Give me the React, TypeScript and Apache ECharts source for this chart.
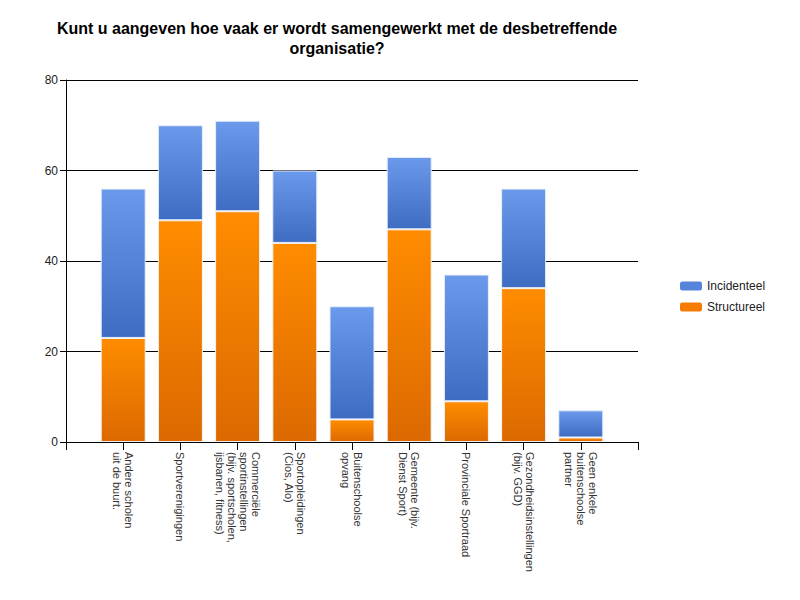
import React, { useEffect, useRef } from "react";
import * as echarts from "echarts";

const categories = [
  "",
  "Andere scholen\nuit de buurt.",
  "Sportverenigingen",
  "Commerciële\nsportinstellingen\n(bijv. sportscholen,\nijsbanen, fitness)",
  "Sportopleidingen\n(Cios, Alo)",
  "Buitenschoolse\nopvang",
  "Gemeente (bijv.\nDienst Sport)",
  "Provinciale Sportraad",
  "Gezondheidsinstellingen\n(bijv. GGD)",
  "Geen enkele\nbuitenschoolse\npartner",
  "",
];
const structureel = [null, 23, 49, 51, 44, 5, 47, 9, 34, 1, null];
const incidenteel = [null, 33, 21, 20, 16, 25, 16, 28, 22, 6, null];
const yTicks = { min: 0, max: 80, interval: 20 };

const FONT = "'Liberation Sans', Arial, sans-serif";

export default function App() {
  const ref = useRef<HTMLDivElement>(null);
  useEffect(() => {
    if (!ref.current) return;
    const chart = echarts.init(ref.current, undefined, { renderer: "svg" });
    const blue = new echarts.graphic.LinearGradient(0, 0, 0, 1, [
      { offset: 0, color: "#6b99eb" },
      { offset: 1, color: "#3d6cc2" },
    ]);
    const orange = new echarts.graphic.LinearGradient(0, 0, 0, 1, [
      { offset: 0, color: "#ff8c00" },
      { offset: 1, color: "#dc6900" },
    ]);
    chart.setOption({
      animation: false,
      backgroundColor: "#ffffff",
      textStyle: { fontFamily: FONT },
      title: {
        text: "Kunt u aangeven hoe vaak er wordt samengewerkt met de desbetreffende\norganisatie?",
        left: 332,
        top: 13,
        textAlign: "center",
        textStyle: {
          fontFamily: FONT,
          fontSize: 16,
          fontWeight: "bold",
          color: "#000",
          lineHeight: 20,
        },
      },
      legend: {
        orient: "vertical",
        left: 675,
        top: 275,
        itemWidth: 22,
        itemHeight: 9,
        itemGap: 9,
        textStyle: { fontFamily: FONT, fontSize: 12, color: "#222" },
        data: [
          { name: "Incidenteel", itemStyle: { color: "#5584da", borderWidth: 0 } },
          { name: "Structureel", itemStyle: { color: "#f57c00", borderWidth: 0 } },
        ],
      },
      grid: { left: 66, right: 162, top: 80, bottom: 158, containLabel: false },
      xAxis: {
        type: "category",
        data: categories,
        boundaryGap: false,
        axisLine: { lineStyle: { color: "#000", width: 1 } },
        axisTick: { show: true, interval: 0, length: 8, lineStyle: { color: "#000" } },
        axisLabel: {
          interval: 0,
          rotate: -90,
          fontSize: 11,
          lineHeight: 12,
          color: "#333",
          margin: 10,
          fontFamily: FONT,
        },
        splitLine: { show: false },
      },
      yAxis: {
        type: "value",
        min: yTicks.min,
        max: yTicks.max,
        interval: yTicks.interval,
        axisLine: { show: true, lineStyle: { color: "#000", width: 1 } },
        axisTick: { show: true, length: 6, lineStyle: { color: "#000" } },
        axisLabel: { fontSize: 12, color: "#222", margin: 8, fontFamily: FONT },
        splitLine: { show: true, lineStyle: { color: "#000", width: 1 } },
      },
      series: [
        {
          name: "Structureel",
          type: "bar",
          stack: "total",
          barWidth: 45,
          data: structureel,
          itemStyle: { color: orange, borderColor: "#f3f3f3", borderWidth: 1 },
        },
        {
          name: "Incidenteel",
          type: "bar",
          stack: "total",
          barWidth: 45,
          data: incidenteel,
          itemStyle: { color: blue, borderColor: "#e6eefa", borderWidth: 1 },
        },
      ],
    });
    return () => chart.dispose();
  }, []);
  return <div ref={ref} style={{ width: 800, height: 600, margin: -8 }} />;
}
